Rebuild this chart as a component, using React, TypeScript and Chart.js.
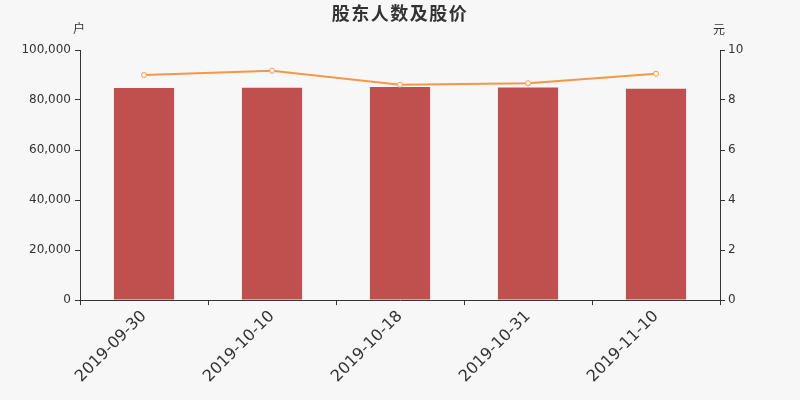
import { useEffect, useRef } from "react"
import { Chart, registerables } from "chart.js"

Chart.register(...registerables)

const dates = ["2019-09-30", "2019-10-10", "2019-10-18", "2019-10-31", "2019-11-10"]
const holders = [84800, 84900, 85200, 85000, 84500]
const prices = [9.0, 9.17, 8.61, 8.67, 9.05]

const FONT = "'DejaVu Sans', 'Noto Sans CJK SC', sans-serif"
const TEXT = "#333"

// title and axis unit labels drawn on top
const labelsPlugin = {
  id: "labels",
  afterDraw(chart) {
    const { ctx, chartArea } = chart
    ctx.save()
    ctx.fillStyle = TEXT
    ctx.textAlign = "center"
    ctx.textBaseline = "middle"
    ctx.font = "bold 18px 'Noto Sans CJK SC', " + FONT
    ctx.letterSpacing = "1.5px"
    ctx.fillText("股东人数及股价", 400, 13)
    ctx.letterSpacing = "0px"
    ctx.font = "12px 'Noto Sans CJK SC', " + FONT
    ctx.fillText("户", chartArea.left - 1, 28)
    ctx.fillText("元", chartArea.right - 1, 29)
    ctx.restore()
  },
}

export default function App() {
  const chartRef = useRef(null)
  const chartInstance = useRef(null)

  useEffect(() => {
    document.body.style.margin = "0"
    if (!chartRef.current) return
    if (chartInstance.current) chartInstance.current.destroy()

    const ctx = chartRef.current.getContext("2d")
    chartInstance.current = new Chart(ctx, {
      type: "bar",
      data: {
        labels: dates,
        datasets: [
          {
            type: "line",
            label: "股价",
            data: prices,
            yAxisID: "y1",
            borderColor: "#f79646",
            backgroundColor: "#ffffff",
            borderWidth: 2,
            tension: 0,
            pointRadius: 2.5,
            pointBorderWidth: 1,
            pointBackgroundColor: "#ffffff",
            pointBorderColor: "#f79646",
            order: 0,
          },
          {
            type: "bar",
            label: "股东人数",
            data: holders,
            yAxisID: "y",
            backgroundColor: "#c0504d",
            categoryPercentage: 1,
            barPercentage: 0.47,
            order: 1,
          },
        ],
      },
      options: {
        responsive: false,
        animation: false,
        layout: { padding: { top: 50, left: 0, right: 0, bottom: 0 } },
        plugins: {
          legend: { display: false },
          title: { display: false },
          tooltip: { enabled: false },
        },
        scales: {
          x: {
            offset: true,
            afterFit: (scale) => {
              scale.height = 100
            },
            border: { display: true, color: TEXT, width: 1 },
            grid: {
              offset: true,
              drawOnChartArea: false,
              drawTicks: true,
              tickLength: 5,
              color: TEXT,
            },
            ticks: {
              color: TEXT,
              font: { family: FONT, size: 16 },
              minRotation: 45,
              maxRotation: 45,
              padding: 2,
            },
          },
          y: {
            position: "left",
            min: 0,
            max: 100000,
            afterFit: (scale) => {
              scale.width = 80
            },
            border: { display: true, color: TEXT, width: 1 },
            grid: {
              drawOnChartArea: false,
              drawTicks: true,
              tickLength: 5,
              color: TEXT,
            },
            ticks: {
              stepSize: 20000,
              color: TEXT,
              padding: 4,
              font: { family: FONT, size: 12 },
              callback: (v) => Number(v).toLocaleString("en-US"),
            },
          },
          y1: {
            position: "right",
            min: 0,
            max: 10,
            afterFit: (scale) => {
              scale.width = 80
            },
            border: { display: true, color: TEXT, width: 1 },
            grid: {
              drawOnChartArea: false,
              drawTicks: true,
              tickLength: 5,
              color: TEXT,
            },
            ticks: {
              stepSize: 2,
              color: TEXT,
              padding: 3,
              font: { family: FONT, size: 12 },
            },
          },
        },
      },
      plugins: [labelsPlugin],
    })

    return () => {
      if (chartInstance.current) {
        chartInstance.current.destroy()
        chartInstance.current = null
      }
    }
  }, [])

  return (
    <div style={{ position: "absolute", left: 0, top: 0, width: 800, height: 400, background: "#f7f7f7" }}>
      <canvas ref={chartRef} width={800} height={400} style={{ width: 800, height: 400 }} />
    </div>
  )
}
